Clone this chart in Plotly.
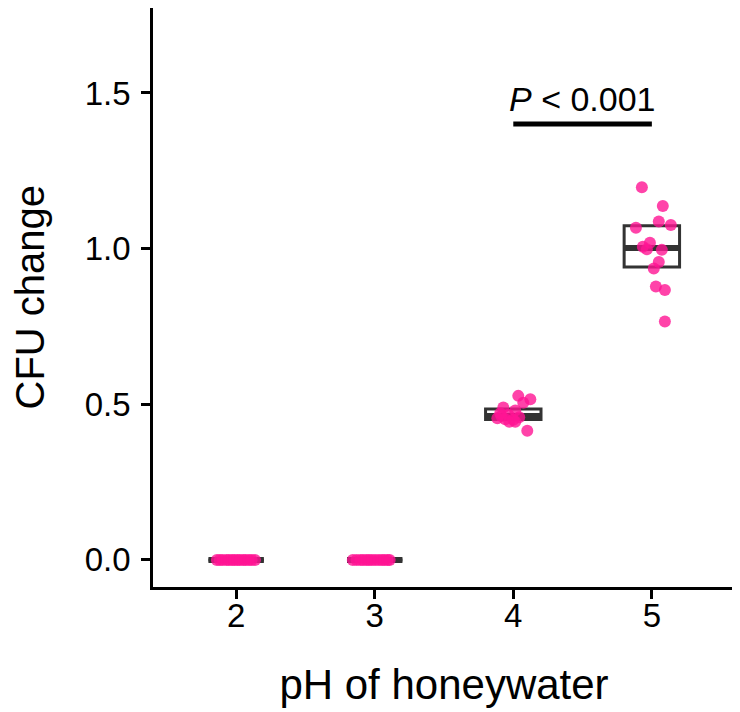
import numpy as np
import plotly.graph_objects as go

# ---- data ----
ph_levels = [2, 3, 4, 5]
tick_labels_x = ["2", "3", "4", "5"]
tick_vals_y = [0.0, 0.5, 1.0, 1.5]
tick_labels_y = ["0.0", "0.5", "1.0", "1.5"]
x_title = "pH of honeywater"
y_title = "CFU change"

cfu_ph2 = [0.0, 0.0, 0.0, 0.0, 0.0, 0.0, 0.0, 0.0, 0.0, 0.0, 0.0, 0.0, 0.0, 0.0]
jit_ph2 = [-0.139, -0.118, -0.097, -0.071, -0.052, -0.030, -0.012, 0.009, 0.027, 0.050, 0.068, 0.091, 0.112, 0.136]

cfu_ph3 = [0.0, 0.0, 0.0, 0.0, 0.0, 0.0, 0.0, 0.0, 0.0, 0.0, 0.0, 0.0, 0.0]
jit_ph3 = [-0.158, -0.131, -0.104, -0.083, -0.060, -0.041, -0.020, 0.004, 0.029, 0.052, 0.071, 0.093, 0.108]

cfu_ph4 = [0.527, 0.516, 0.505, 0.490, 0.480, 0.471, 0.466, 0.455, 0.450, 0.444, 0.444, 0.415, 0.452, 0.458, 0.462]
jit_ph4 = [0.036, 0.123, 0.072, -0.072, 0.014, -0.094, -0.036, -0.115, 0.0, -0.029, 0.014, 0.101, -0.058, 0.043, -0.087]

cfu_ph5 = [1.197, 1.137, 1.087, 1.076, 1.067, 1.019, 1.006, 0.998, 0.996, 0.957, 0.936, 0.878, 0.867, 0.766]
jit_ph5 = [-0.072, 0.079, 0.050, 0.137, -0.115, -0.014, -0.065, -0.036, 0.072, 0.050, 0.014, 0.029, 0.094, 0.094]

groups = {2: (cfu_ph2, jit_ph2), 3: (cfu_ph3, jit_ph3), 4: (cfu_ph4, jit_ph4), 5: (cfu_ph5, jit_ph5)}

bracket_groups = [4, 5]
bracket_y = 1.4
label_y = 1.48
p_label = "<i>P</i> < 0.001"

# ---- style ----
FONT = "Liberation Sans, Arial, sans-serif"
BOX_COLOR = "#333333"
PT_COLOR = "rgba(255,20,147,0.80)"
BOX_W = 0.4

fig = go.Figure()

for ph, (vals, jit) in groups.items():
    q1, med, q3 = np.percentile(vals, [25, 50, 75])
    fig.add_trace(go.Box(
        x=[ph], q1=[q1], median=[med], q3=[q3], lowerfence=[q1], upperfence=[q3],
        width=BOX_W, line=dict(color=BOX_COLOR, width=3), fillcolor="white",
        boxpoints=False, showlegend=False, hoverinfo="skip"))
    fig.add_trace(go.Scatter(
        x=[ph - BOX_W / 2, ph + BOX_W / 2], y=[med, med], mode="lines",
        line=dict(color=BOX_COLOR, width=6), showlegend=False, hoverinfo="skip"))

for ph, (vals, jit) in groups.items():
    fig.add_trace(go.Scatter(
        x=[ph + j for j in jit], y=vals, mode="markers",
        marker=dict(color=PT_COLOR, size=12, line=dict(width=0)),
        showlegend=False))

fig.add_trace(go.Scatter(
    x=bracket_groups, y=[bracket_y, bracket_y], mode="lines",
    line=dict(color="black", width=5), showlegend=False, hoverinfo="skip"))

fig.add_annotation(
    x=sum(bracket_groups) / 2, y=label_y, text=p_label, showarrow=False,
    xanchor="center", yanchor="middle", font=dict(family=FONT, size=34, color="black"))

# y-axis title as rotated annotation (free positioning)
fig.add_annotation(
    xref="paper", yref="paper", x=0, y=0.5, xshift=-124, text=y_title, textangle=-90,
    showarrow=False, xanchor="center", yanchor="middle",
    font=dict(family=FONT, size=40, color="black"))

axis_common = dict(showline=True, linecolor="black", linewidth=2.5, ticks="outside",
                   ticklen=9, tickwidth=2.5, tickcolor="black", showgrid=False,
                   zeroline=False, tickfont=dict(family=FONT, size=33, color="black"))

fig.update_xaxes(range=[1.4, 5.6], tickvals=ph_levels, ticktext=tick_labels_x,
                 ticklabelstandoff=-11,
                 title=dict(text=x_title, font=dict(family=FONT, size=42, color="black"), standoff=37),
                 **axis_common)
fig.update_yaxes(range=[-0.087, 1.773], tickvals=tick_vals_y, ticktext=tick_labels_y,
                 ticklabelstandoff=4, **axis_common)

fig.update_layout(width=740, height=712, plot_bgcolor="white", paper_bgcolor="white",
                  margin=dict(l=145, r=13, t=0, b=133), font=dict(family=FONT))

fig.write_html("out.html")
